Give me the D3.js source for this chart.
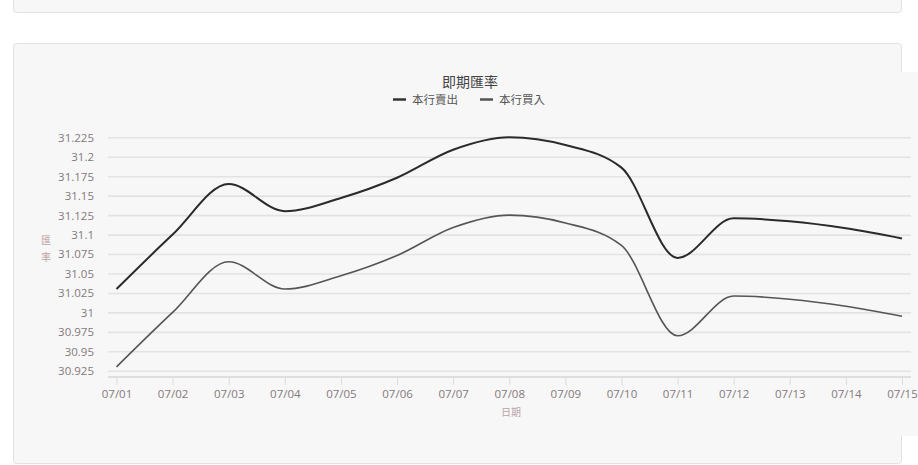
<!DOCTYPE html>
<html><head><meta charset="utf-8">
<script src="https://cdn.jsdelivr.net/npm/d3@7/dist/d3.min.js"></script>
<style>
html,body{margin:0;padding:0;background:#fff;}
svg{display:block;}
</style></head>
<body><svg id="c" width="918" height="465"></svg>
<script>
const dates = ["07/01","07/02","07/03","07/04","07/05","07/06","07/07","07/08","07/09","07/10","07/11","07/12","07/13","07/14","07/15"];
const sellRates = [31.03,31.10,31.165,31.13,31.147,31.173,31.209,31.225,31.215,31.186,31.07,31.121,31.117,31.108,31.095];
const buyRates  = [30.93,31.00,31.065,31.03,31.047,31.073,31.109,31.125,31.115,31.086,30.97,31.021,31.017,31.008,30.995];
const yTicks = [30.925,30.95,30.975,31,31.025,31.05,31.075,31.1,31.125,31.15,31.175,31.2,31.225];
const seriesNames = ["本行賣出","本行買入"];
const titleText = "即期匯率";
const xTitle = "日期";
const yTitle = ["匯","率"];

const svg = d3.select("#c");
const cjk = "'Noto Sans CJK TC','Noto Sans CJK SC',sans-serif";
const num = "'Open Sans','Liberation Sans',sans-serif";

// panels
svg.append("rect").attr("x",13.5).attr("y",-10).attr("width",888).attr("height",22.5).attr("rx",3)
  .attr("fill","#f7f7f7").attr("stroke","#e2e2e2");
svg.append("rect").attr("x",13.5).attr("y",43.5).attr("width",888).attr("height",420).attr("rx",3)
  .attr("fill","#f7f7f7").attr("stroke","#e2e2e2");
// chart canvas
svg.append("rect").attr("x",20).attr("y",72).attr("width",898).attr("height",364).attr("fill","#f7f7f7");

const x = d3.scalePoint().domain(dates).range([116.5, 902]);
const y = d3.scaleLinear().domain([30.917, 31.225]).range([377, 137.3]);

// grid
const gridG = svg.append("g").attr("transform","translate(108,0)")
  .call(d3.axisLeft(y).tickValues(yTicks).tickSize(-803).tickFormat(""));
gridG.select(".domain").remove();
gridG.selectAll(".tick line").attr("stroke","#e3e3e3").attr("stroke-width",1.6);

// y labels
const yl = svg.append("g").attr("transform","translate(94,0)")
  .call(d3.axisLeft(y).tickValues(yTicks).tickSize(0).tickPadding(0).tickFormat(d=>d3.format("")(+d.toFixed(3))));
yl.select(".domain").remove();
yl.selectAll("text").attr("fill","#85797c").attr("font-family",num).attr("font-size",11.5).attr("dy","0.34em");

// x axis
const xg = svg.append("g").attr("transform","translate(0,377)")
  .call(d3.axisBottom(x).tickSize(8).tickPadding(5).tickSizeOuter(0));
xg.select(".domain").remove();
svg.append("line").attr("x1",108).attr("x2",911).attr("y1",377).attr("y2",377).attr("stroke","#dedede").attr("stroke-width",2);
xg.selectAll(".tick line").attr("stroke","#dcdcdc");
xg.selectAll("text").attr("fill","#85797c").attr("font-family",num).attr("font-size",11.5);

// lines
const line = d3.line().x((d,i)=>x(dates[i])).y(d=>y(d)).curve(d3.curveMonotoneX);
svg.append("path").datum(buyRates).attr("d",line).attr("fill","none").attr("stroke","#555").attr("stroke-width",1.6);
svg.append("path").datum(sellRates).attr("d",line).attr("fill","none").attr("stroke","#2a2a2a").attr("stroke-width",2);

// title
svg.append("text").attr("x",470).attr("y",87).attr("text-anchor","middle").attr("font-family",cjk)
  .attr("font-size",14).attr("fill","#444").text(titleText);
// legend
const legX = [393, 480];
const legCol = ["#333","#555"];
seriesNames.forEach((n,i)=>{
  svg.append("line").attr("x1",legX[i]).attr("x2",legX[i]+13).attr("y1",99.5).attr("y2",99.5)
    .attr("stroke",legCol[i]).attr("stroke-width",2.5);
  svg.append("text").attr("x",legX[i]+19).attr("y",103.5).attr("font-family",cjk).attr("font-size",11.5)
    .attr("fill","#555").text(n);
});
// axis titles
svg.append("text").attr("x",511).attr("y",415.5).attr("text-anchor","middle").attr("font-family",cjk)
  .attr("font-size",10).attr("fill","#b9a5a8").text(xTitle);
yTitle.forEach((c,i)=>{
  svg.append("text").attr("x",46).attr("y",244+i*16.5).attr("text-anchor","middle").attr("font-family",cjk)
    .attr("font-size",10).attr("fill","#bfa5a8").text(c);
});
</script></body></html>
